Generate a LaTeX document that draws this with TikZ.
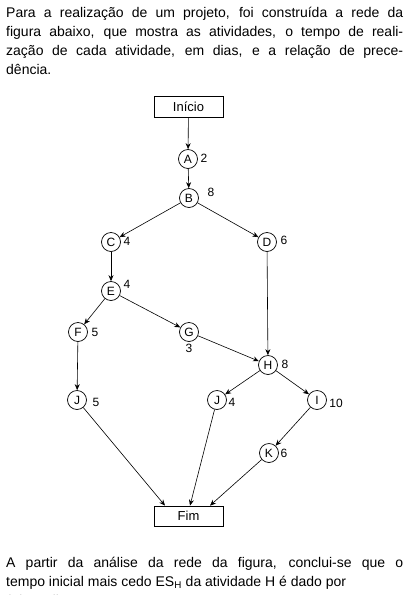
\documentclass[tikz,border=0pt]{standalone}
\usepackage{fontspec}
\setmainfont{Liberation Sans}
\usetikzlibrary{arrows.meta,calc}
\begin{document}
\begin{tikzpicture}[x=1pt,y=-1pt,
  act/.style={circle,draw,line width=0.7pt,minimum size=19pt,inner sep=0pt,font=\fontsize{12}{12}\selectfont},
  lbl/.style={font=\fontsize{12}{12}\selectfont,inner sep=0pt},
  term/.style={draw,line width=0.8pt,minimum width=69pt,minimum height=21pt,inner sep=0pt,font=\fontsize{13}{13}\selectfont},
  conn/.style={line width=0.6pt,-{Stealth[length=6pt,width=5pt]}},
  para/.style={anchor=base west,inner sep=0pt,font=\fontsize{14}{14}\selectfont}]
\useasboundingbox (0,0) rectangle (409,595);
\fill[white] (0,0) rectangle (409,595);

% text above
\node[para] (t1) at (6,17) {\makebox[397pt][s]{Para a realização de um projeto, foi construída a rede da}};
\node[para] (t2) at (6,36) {\makebox[397pt][s]{figura abaixo, que mostra as atividades, o tempo de reali-}};
\node[para] (t3) at (6,55) {\makebox[397pt][s]{zação de cada atividade, em dias, e a relação de prece-}};
\node[para] (t4) at (6,74) {dência.};

% nodes
\node[term] (ini) at (188.5,106.5) {Início};
\node[act] (A) at (188,159) {A};
\node[act] (B) at (189,198) {B};
\node[act] (C) at (111,242) {C};
\node[act] (D) at (267,242) {D};
\node[act] (E) at (111,291) {E};
\node[act] (F) at (78,332) {F};
\node[act] (G) at (189,332) {G};
\node[act] (H) at (268,365) {H};
\node[act] (J1) at (77,400) {J};
\node[act] (J2) at (217,400) {J};
\node[act] (I) at (317,400) {I};
\node[act] (K) at (269,453) {K};
\node[term,minimum height=20pt] (fim) at (188.5,516) {Fim};

% labels
\node[lbl] (lA) at (204,158) {2};
\node[lbl] (lB) at (211,192) {8};
\node[lbl] (lC) at (127,241) {4};
\node[lbl] (lD) at (284,240) {6};
\node[lbl] (lE) at (127,284) {4};
\node[lbl] (lF) at (95,332) {5};
\node[lbl] (lG) at (189,348) {3};
\node[lbl] (lH) at (285,364) {8};
\node[lbl] (lJ1) at (96,402) {5};
\node[lbl] (lJ2) at (232,402) {4};
\node[lbl] (lI) at (336,403) {10};
\node[lbl] (lK) at (284,453) {6};

% connector ends on Fim
\coordinate (f1) at ($(fim.north)+(-23.5,0)$);
\coordinate (f2) at ($(fim.north)+(1.5,0)$);
\coordinate (f3) at ($(fim.north)+(21.5,0)$);

% connectors
\draw[conn] (ini) -- (A);
\draw[conn] (A) -- (B);
\draw[conn] (B) -- (C);
\draw[conn] (B) -- (D);
\draw[conn] (C) -- (E);
\draw[conn] (D) -- (H);
\draw[conn] (E) -- (F);
\draw[conn] (E) -- (G);
\draw[conn] (G) -- (H);
\draw[conn] (F) -- (J1);
\draw[conn] (H) -- (J2);
\draw[conn] (H) -- (I);
\draw[conn] (I) -- (K);
\draw[conn] (J1) -- (f1);
\draw[conn] (J2) -- (f2);
\draw[conn] (K) -- (f3);

% text below
\node[para] (b1) at (6,567) {\makebox[397pt][s]{A partir da análise da rede da figura, conclui-se que o}};
\node[para] (b2) at (6,586) {tempo inicial mais cedo ES\textsubscript{H} da atividade H é dado por};
\node[para] (b3) at (6,605) {(A) 10 dias};
\end{tikzpicture}
\end{document}
